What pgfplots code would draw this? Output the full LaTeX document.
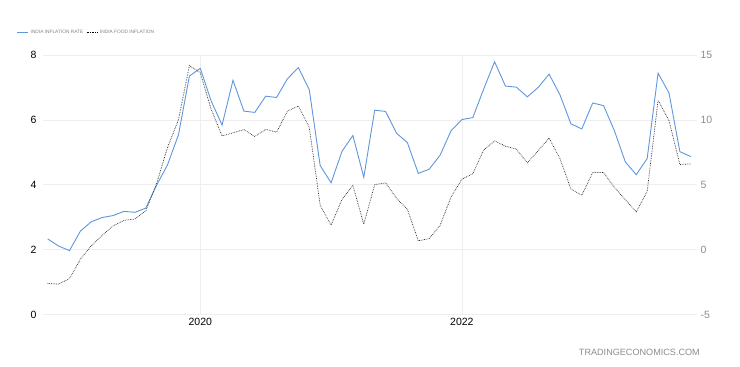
\documentclass[border=0pt]{standalone}
\usepackage{pgfplots}
\pgfplotsset{compat=1.18}
\usepackage{fontspec}
\setmainfont{Liberation Sans}
\definecolor{teblue}{RGB}{95,150,222}
\definecolor{gridc}{RGB}{238,238,238}
\definecolor{rlab}{RGB}{140,140,140}
\pgfplotsset{legend image code/.code={\draw[#1] (0pt,0pt) -- (11pt,0pt);}}
\begin{document}
\begin{tikzpicture}
\useasboundingbox (0,0) rectangle (740pt,367pt);
\pgfplotsset{
  common/.style={
    scale only axis, width=654pt, height=259.5pt,
    at={(43pt,52.5pt)}, anchor=south west,
    xmin=-0.43, xmax=59.57,
    axis line style={draw=none},
    tick style={draw=none},
    /pgf/number format/assume math mode=true,
    tick label style={font=\fontsize{10.5}{12}\selectfont},
  }
}
\begin{axis}[common,
  ymin=0, ymax=8, ytick={0,2,4,6,8},
  xtick={14,38}, xticklabels={2020,2022},
  grid=major, major grid style={gridc, line width=0.6pt},
  yticklabel style={xshift=-3pt},
  legend style={at={(-0.045,1.088)}, anchor=west, draw=none, fill=none,
    legend columns=2, font=\fontsize{4.8}{6}\selectfont, text=gray,
    nodes={inner xsep=2pt},
    /tikz/every even column/.append style={column sep=1pt}},
  legend cell align=left,
  clip=false,
]
\addlegendimage{teblue, line width=0.9pt}
\addlegendentry{INDIA INFLATION RATE}
\addlegendimage{black, densely dotted, line width=0.7pt}
\addlegendentry{INDIA FOOD INFLATION}
\addplot[teblue, line width=0.9pt, forget plot] coordinates {
(0,2.33)(1,2.11)(2,1.97)(3,2.57)(4,2.86)(5,2.99)(6,3.05)(7,3.18)(8,3.15)(9,3.28)
(10,3.99)(11,4.62)(12,5.54)(13,7.35)(14,7.59)(15,6.58)(16,5.84)(17,7.22)(18,6.27)(19,6.23)
(20,6.73)(21,6.69)(22,7.27)(23,7.61)(24,6.93)(25,4.59)(26,4.06)(27,5.03)(28,5.52)(29,4.23)
(30,6.30)(31,6.26)(32,5.59)(33,5.30)(34,4.35)(35,4.48)(36,4.91)(37,5.66)(38,6.01)(39,6.07)
(40,6.95)(41,7.79)(42,7.04)(43,7.01)(44,6.71)(45,7.00)(46,7.41)(47,6.77)(48,5.88)(49,5.72)
(50,6.52)(51,6.44)(52,5.66)(53,4.70)(54,4.31)(55,4.81)(56,7.44)(57,6.83)(58,5.02)(59,4.87)
};
\node[anchor=east, inner sep=0pt, text=rlab, font=\fontsize{9.1}{11}\selectfont] at (axis description cs:1.0046,-0.1445) {TRADINGECONOMICS.COM};
\end{axis}
\begin{axis}[common,
  ymin=-5, ymax=15, ytick={-5,0,5,10,15},
  axis y line*=right, axis x line=none,
  yticklabel style={text=rlab},
]
\addplot[black!85, densely dotted, line width=0.7pt] coordinates {
(0,-2.61)(1,-2.65)(2,-2.24)(3,-0.73)(4,0.30)(5,1.10)(6,1.83)(7,2.25)(8,2.36)(9,2.99)
(10,5.11)(11,7.89)(12,10.01)(13,14.19)(14,13.63)(15,10.81)(16,8.76)(17,9.0)(18,9.25)(19,8.72)
(20,9.27)(21,9.05)(22,10.68)(23,11.07)(24,9.43)(25,3.41)(26,1.89)(27,3.87)(28,4.94)(29,1.96)
(30,5.01)(31,5.15)(32,3.96)(33,3.11)(34,0.68)(35,0.85)(36,1.87)(37,4.05)(38,5.43)(39,5.85)
(40,7.68)(41,8.38)(42,7.97)(43,7.75)(44,6.69)(45,7.62)(46,8.60)(47,7.01)(48,4.67)(49,4.19)
(50,5.94)(51,5.95)(52,4.79)(53,3.84)(54,2.91)(55,4.49)(56,11.51)(57,9.94)(58,6.56)(59,6.61)
};
\end{axis}
\end{tikzpicture}
\end{document}
